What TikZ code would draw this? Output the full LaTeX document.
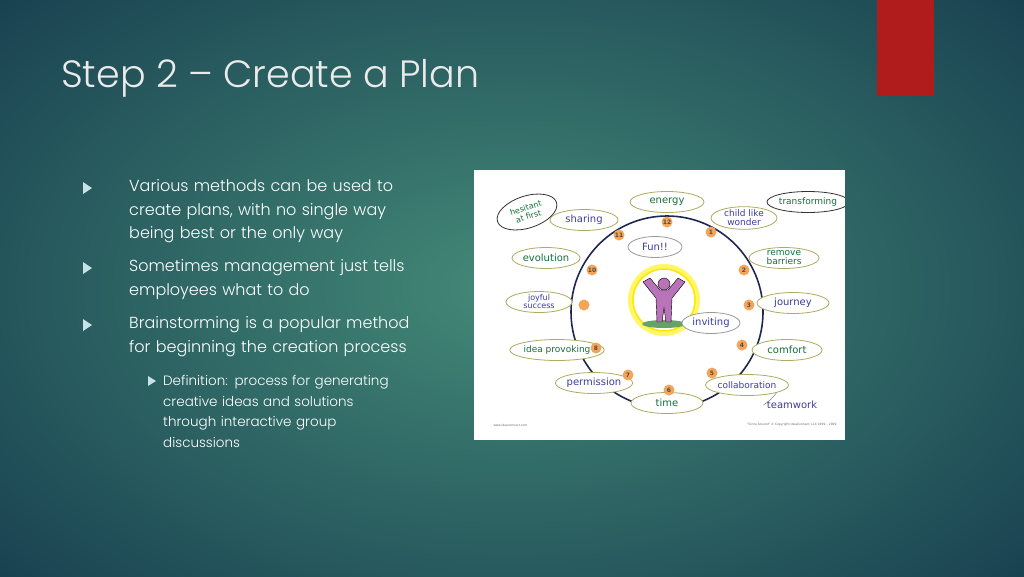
\documentclass[tikz,border=0pt]{standalone}
\usepackage{fontspec}
\usetikzlibrary{shapes.geometric}
\setmainfont{Poppins Light}
\newfontfamily\hand{DejaVu Sans}
\begin{document}
\begin{tikzpicture}[x=1pt,y=-1pt,
  bul/.style={fill=bulc,draw=none},
  txt/.style={anchor=west,text=white,font=\fontsize{16}{23.5}\selectfont,inner sep=0pt,align=left,text width=330pt},
  sub/.style={anchor=west,text=white,font=\fontsize{13.5}{20.5}\selectfont,inner sep=0pt,align=left,text width=300pt},
  bub/.style={ellipse,draw=ylw!80!black,line width=0.8pt,minimum width=#1,minimum height=21pt,inner sep=0pt,font=\hand\fontsize{10}{10}\selectfont},
  bub/.default=70pt,
  gt/.style={text=gtxt},bt/.style={text=btxt},
  num/.style={circle,fill=orng,inner sep=0pt,minimum size=11pt,font=\hand\fontsize{6}{6}\selectfont\bfseries,text=black!70}
]
\definecolor{bulc}{RGB}{200,225,228}
\definecolor{ylw}{RGB}{215,215,120}
\definecolor{gtxt}{RGB}{20,110,60}
\definecolor{btxt}{RGB}{60,60,160}
\definecolor{orng}{RGB}{245,165,90}
\definecolor{navy}{RGB}{30,40,80}
\definecolor{bgin}{RGB}{68,138,120}
\definecolor{bgout}{RGB}{24,64,80}
\definecolor{redbox}{RGB}{176,28,28}
\useasboundingbox (0,0) rectangle (1024,576);
\shade[inner color=bgin,outer color=bgout] (-200,-150) rectangle (1224,726);
\fill[redbox] (877,0) rectangle (934,96);
\node[anchor=base west,inner sep=0pt,text=black!8,font=\fontsize{38}{38}\selectfont] (title) at (61,87) {Step 2 – Create a Plan};
% bullets
\foreach \y in {188,268,325}{\fill[bul] (83,\y-6) -- (92,\y) -- (83,\y+6) -- cycle;}
\node[txt] (t1) at (129,211.5) {Various methods can be used to\\create plans, with no single way\\being best or the only way};
\node[txt] (t2) at (129,279.5) {Sometimes management just tells\\employees what to do};
\node[txt] (t3) at (129,336.5) {Brainstorming is a popular method\\for beginning the creation process};
\fill[bul] (148,376) -- (156,381) -- (148,386) -- cycle;
\node[sub] (t4) at (163,411.5) {Definition: process for generating\\creative ideas and solutions\\through interactive group\\discussions};
% image
\fill[white] (474,170) rectangle (845,440);
\begin{scope}
\clip (474,170) rectangle (845,440);
\draw[navy,line width=1.6pt] (667,312) circle (96);
\draw[yellow!60,line width=6pt] (664,300) circle (33);
\draw[yellow!90!orange,line width=1.5pt] (664,300) circle (31);
\fill[white] (664,300) circle (30);
\fill[green!40!black!60] (664,324) ellipse (22 and 4);
\fill[violet!55,draw=black] (660,290) -- (650,278) -- (643,282) -- (656,298) -- (657,322) -- (662,322) -- (664,308) -- (666,322) -- (671,322) -- (672,298) -- (685,282) -- (678,278) -- (668,290) -- cycle;
\fill[violet!55,draw=black] (664,284) circle (6);
\node[bub=74pt,gt,fill=white] (energy) at (667,202) {energy};
\node[bub=68pt,bt,fill=white] (sharing) at (584,220) {sharing};
\node[bub=62pt,draw=black!80,gt,minimum height=32pt,rotate=18,align=center,font=\hand\fontsize{8}{9}\selectfont] (hes) at (527,212) {hesitant\\at first};
\node[bub=66pt,bt,fill=white,align=center,font=\hand\fontsize{9}{9}\selectfont] (child) at (744,218) {child like\\wonder};
\node[bub=60pt,draw=black!80,gt,font=\hand\fontsize{9}{9}\selectfont] (trans) at (808,202) {transforming};
\node[bub=54pt,draw=black!40,bt,fill=white] (fun) at (655,247) {Fun!!};
\node[bub=68pt,gt,fill=white] (evo) at (546,258) {evolution};
\node[bub=70pt,gt,fill=white,align=center,font=\hand\fontsize{9}{9}\selectfont] (rem) at (784,258) {remove\\barriers};
\node[bub=66pt,bt,fill=white,align=center,font=\hand\fontsize{8}{8}\selectfont] (joy) at (539,302) {joyful\\success};
\node[bub=72pt,bt,fill=white] (jour) at (793,303) {journey};
\node[bub=58pt,draw=black!40,bt,fill=white] (inv) at (711,323) {inviting};
\node[bub=72pt,gt,fill=white,font=\hand\fontsize{9}{9}\selectfont] (idea) at (557,350) {idea provoking};
\node[bub=70pt,gt,fill=white] (comf) at (787,350) {comfort};
\node[bub=74pt,bt,fill=white] (perm) at (594,383) {permission};
\node[bub=72pt,bt,fill=white,font=\hand\fontsize{9}{9}\selectfont] (coll) at (747,385) {collaboration};
\node[bt,font=\hand\fontsize{10}{10}\selectfont] (team) at (792,405) {teamwork};
\node[bub=72pt,gt,fill=white] (time) at (667,403) {time};
\draw[black!60] (coll.south east) to[bend left=10] (team.west);
\foreach \n/\x/\y in {12/667/222,11/619/235,1/711/232,10/592/270,2/744/270,3/749/305,9/584/305,8/596/348,4/742/345,7/628/375,5/712/373,6/669/390}{
  \node[num] (n\n) at (\x,\y) {\ifnum\n=9\else\n\fi};}
\node[font=\hand\fontsize{3}{3}\selectfont,anchor=west,text=black!60] (url) at (490,425) {www.ideaconnect.com};
\node[font=\hand\fontsize{3}{3}\selectfont,anchor=east,text=black!60] (copy) at (840,425) {"Circle Around" © Copyright IdeaConnect, LLC 1999 – 2009};
\end{scope}
\end{tikzpicture}
\end{document}
